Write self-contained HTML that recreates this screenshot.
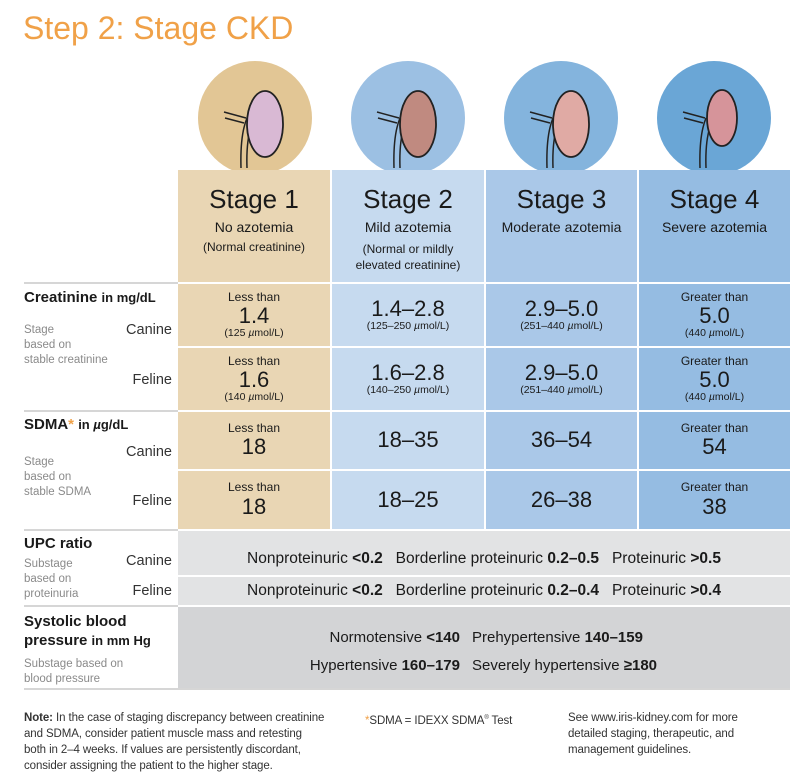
<!DOCTYPE html>
<html><head><meta charset="utf-8"><style>
*{margin:0;padding:0;box-sizing:border-box}
body{width:805px;height:782px;background:#fff;font-family:"Liberation Sans",Arial,sans-serif;color:#1a1a1a;position:relative;overflow:hidden}
.a{position:absolute}
.c{position:absolute;text-align:center;display:flex;flex-direction:column;justify-content:center;align-items:center;line-height:1.1}
.s1{background:#e9d6b4}.s2{background:#c6daef}.s3{background:#aac8e8}.s4{background:#95bce2}
.big{font-size:22px}
.sm{font-size:12px}
.xs{font-size:10.5px}
.hl{position:absolute;left:24px;height:2px;background:#d6d6d6}
.lbl{font-size:15px;font-weight:bold}
.sub{font-size:11.5px;color:#8a8a8a;line-height:15px}
.sp{font-size:14.5px;color:#333;text-align:right}
.circ{position:absolute;width:114px;height:114px;border-radius:50%;top:61px}
.ft{font-size:11.5px;line-height:16px;color:#333;letter-spacing:-0.1px;white-space:nowrap}
</style></head><body>
<div class="a" style="left:23px;top:10px;font-size:32px;color:#f0a148">Step 2: Stage CKD</div>

<div class="circ" style="left:198px;background:#e2c695"></div>
<div class="circ" style="left:351px;background:#9cc0e3"></div>
<div class="circ" style="left:504px;background:#84b4dd"></div>
<div class="circ" style="left:657px;background:#6aa6d6"></div>
<svg class="a" style="left:0;top:0" width="805" height="170">
<g fill="none" stroke="#222" stroke-width="1.5">
<path d="M224 112 L246 118 M225 118 L244 123 M247 118 Q240 135 241 168 M252 124 Q246 140 247 168"/>
<path d="M377 112 L399 118 M378 118 L397 123 M400 118 Q393 135 394 168 M405 124 Q399 140 400 168"/>
<path d="M530 112 L552 118 M531 118 L550 123 M553 118 Q546 135 547 168 M558 124 Q552 140 553 168"/>
<path d="M683 112 L705 118 M684 118 L703 123 M706 118 Q699 135 700 168 M711 124 Q705 140 706 168"/>
</g>
<ellipse cx="265" cy="124" rx="18" ry="33" fill="#d9b9d4" stroke="#222" stroke-width="1.8"/>
<ellipse cx="418" cy="124" rx="18" ry="33" fill="#c08a80" stroke="#222" stroke-width="1.8"/>
<ellipse cx="571" cy="124" rx="18" ry="33" fill="#e0aaa4" stroke="#222" stroke-width="1.8"/>
<ellipse cx="722" cy="118" rx="15" ry="28" fill="#d6949a" stroke="#222" stroke-width="1.8"/>
</svg>

<div class="a s1" style="left:178px;top:170px;width:152px;height:112px"></div>
<div class="a s2" style="left:332px;top:170px;width:152px;height:112px"></div>
<div class="a s3" style="left:486px;top:170px;width:151px;height:112px"></div>
<div class="a s4" style="left:639px;top:170px;width:151px;height:112px"></div>
<div class="c" style="left:178px;top:185px;width:152px"><div style="font-size:26px">Stage 1</div><div style="font-size:14px;margin-top:6px">No azotemia</div><div class="sm" style="margin-top:6px">(Normal creatinine)</div></div>
<div class="c" style="left:332px;top:185px;width:152px"><div style="font-size:26px">Stage 2</div><div style="font-size:14px;margin-top:6px">Mild azotemia</div><div class="sm" style="margin-top:6px;line-height:16px">(Normal or mildly<br>elevated creatinine)</div></div>
<div class="c" style="left:486px;top:185px;width:151px"><div style="font-size:26px">Stage 3</div><div style="font-size:14px;margin-top:6px">Moderate azotemia</div></div>
<div class="c" style="left:639px;top:185px;width:151px"><div style="font-size:26px">Stage 4</div><div style="font-size:14px;margin-top:6px">Severe azotemia</div></div>

<div class="hl" style="top:282px;width:154px"></div>
<div class="hl" style="top:410px;width:154px"></div>
<div class="hl" style="top:529px;width:154px"></div>
<div class="hl" style="top:605px;width:154px"></div>
<div class="hl" style="top:688px;width:766px;left:24px"></div>

<div class="a lbl" style="left:24px;top:289px">Creatinine <span style="font-size:13px">in mg/dL</span></div>
<div class="a sub" style="left:24px;top:323px">Stage<br>based on<br>stable creatinine</div>
<div class="a sp" style="left:100px;top:322px;width:72px">Canine</div>
<div class="a sp" style="left:100px;top:372px;width:72px">Feline</div>

<div class="c s1" style="left:178px;top:284px;width:152px;height:62px"><div class="sm">Less than</div><div class="big">1.4</div><div class="xs">(125 <i>µ</i>mol/L)</div></div>
<div class="c s2" style="left:332px;top:284px;width:152px;height:62px"><div class="big">1.4–2.8</div><div class="xs">(125–250 <i>µ</i>mol/L)</div></div>
<div class="c s3" style="left:486px;top:284px;width:151px;height:62px"><div class="big">2.9–5.0</div><div class="xs">(251–440 <i>µ</i>mol/L)</div></div>
<div class="c s4" style="left:639px;top:284px;width:151px;height:62px"><div class="sm">Greater than</div><div class="big">5.0</div><div class="xs">(440 <i>µ</i>mol/L)</div></div>

<div class="c s1" style="left:178px;top:348px;width:152px;height:62px"><div class="sm">Less than</div><div class="big">1.6</div><div class="xs">(140 <i>µ</i>mol/L)</div></div>
<div class="c s2" style="left:332px;top:348px;width:152px;height:62px"><div class="big">1.6–2.8</div><div class="xs">(140–250 <i>µ</i>mol/L)</div></div>
<div class="c s3" style="left:486px;top:348px;width:151px;height:62px"><div class="big">2.9–5.0</div><div class="xs">(251–440 <i>µ</i>mol/L)</div></div>
<div class="c s4" style="left:639px;top:348px;width:151px;height:62px"><div class="sm">Greater than</div><div class="big">5.0</div><div class="xs">(440 <i>µ</i>mol/L)</div></div>

<div class="a lbl" style="left:24px;top:416px">SDMA<span style="color:#f0a148">*</span> <span style="font-size:13px">in <i>µ</i>g/dL</span></div>
<div class="a sub" style="left:24px;top:455px">Stage<br>based on<br>stable SDMA</div>
<div class="a sp" style="left:100px;top:444px;width:72px">Canine</div>
<div class="a sp" style="left:100px;top:493px;width:72px">Feline</div>

<div class="c s1" style="left:178px;top:412px;width:152px;height:57px"><div class="sm">Less than</div><div class="big">18</div></div>
<div class="c s2" style="left:332px;top:412px;width:152px;height:57px"><div class="big">18–35</div></div>
<div class="c s3" style="left:486px;top:412px;width:151px;height:57px"><div class="big">36–54</div></div>
<div class="c s4" style="left:639px;top:412px;width:151px;height:57px"><div class="sm">Greater than</div><div class="big">54</div></div>
<div class="c s1" style="left:178px;top:471px;width:152px;height:58px"><div class="sm">Less than</div><div class="big">18</div></div>
<div class="c s2" style="left:332px;top:471px;width:152px;height:58px"><div class="big">18–25</div></div>
<div class="c s3" style="left:486px;top:471px;width:151px;height:58px"><div class="big">26–38</div></div>
<div class="c s4" style="left:639px;top:471px;width:151px;height:58px"><div class="sm">Greater than</div><div class="big">38</div></div>

<div class="a lbl" style="left:24px;top:535px">UPC ratio</div>
<div class="a sub" style="left:24px;top:557px">Substage<br>based on<br>proteinuria</div>
<div class="a sp" style="left:100px;top:553px;width:72px">Canine</div>
<div class="a sp" style="left:100px;top:583px;width:72px">Feline</div>
<div class="c" style="left:178px;top:531px;width:612px;height:44px;background:#e2e3e4;font-size:15.5px"><div style="margin-top:12px">Nonproteinuric <b>&lt;0.2</b>&nbsp;&nbsp; Borderline proteinuric <b>0.2–0.5</b>&nbsp;&nbsp; Proteinuric <b>&gt;0.5</b></div></div>
<div class="c" style="left:178px;top:577px;width:612px;height:28px;background:#e2e3e4;font-size:15.5px"><div>Nonproteinuric <b>&lt;0.2</b>&nbsp;&nbsp; Borderline proteinuric <b>0.2–0.4</b>&nbsp;&nbsp; Proteinuric <b>&gt;0.4</b></div></div>

<div class="a lbl" style="left:24px;top:612px;line-height:19px">Systolic blood<br>pressure <span style="font-size:13px">in mm Hg</span></div>
<div class="a sub" style="left:24px;top:657px">Substage based on<br>blood pressure</div>
<div class="a" style="left:178px;top:607px;width:612px;height:81px;background:#d3d4d6;font-size:15px">
<div class="a" style="right:0;left:0;top:22px"><span class="a" style="right:330px;white-space:nowrap">Normotensive <b>&lt;140</b></span><span class="a" style="left:294px;white-space:nowrap">Prehypertensive <b>140–159</b></span></div>
<div class="a" style="right:0;left:0;top:50px"><span class="a" style="right:330px;white-space:nowrap">Hypertensive <b>160–179</b></span><span class="a" style="left:294px;white-space:nowrap">Severely hypertensive <b>≥180</b></span></div>
</div>

<div class="a ft" style="left:24px;top:710px"><b>Note:</b> In the case of staging discrepancy between creatinine<br>and SDMA, consider patient muscle mass and retesting<br>both in 2–4 weeks. If values are persistently discordant,<br>consider assigning the patient to the higher stage.</div>
<div class="a ft" style="left:365px;top:710px"><span style="color:#f0a148">*</span>SDMA = IDEXX SDMA<sup style="font-size:6px">®</sup> Test</div>
<div class="a ft" style="left:568px;top:710px">See www.iris-kidney.com for more<br>detailed staging, therapeutic, and<br>management guidelines.</div>
</body></html>
